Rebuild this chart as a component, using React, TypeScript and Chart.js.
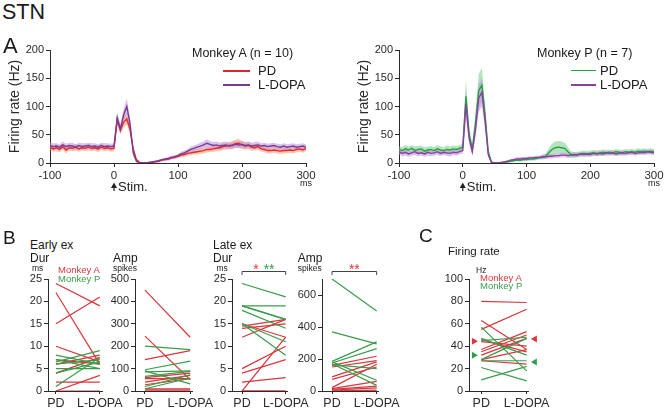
import React, { useEffect, useRef } from "react";
import { Chart, registerables } from "chart.js";

Chart.register(...registerables);

const FONT = "'Liberation Sans', Arial, Helvetica, sans-serif";
Chart.defaults.font.family = FONT;
Chart.defaults.color = "#222";

// ---------- Panel A : PSTH data (5 ms bins, -100 .. 300 ms) ----------
const BIN_START_MS = -100;
const BIN_MS = 5;

const A_PD_RATE = [
  28, 25, 27, 24, 29, 23, 27, 26, 28, 25, 27, 26, 28, 26, 27, 25, 28, 26, 27, 25,
  26, 76, 58, 72, 78, 60, 25, 6, 1, 0,
  0, 1, 1, 2, 3, 5, 6, 7, 9, 10,
  12, 14, 15, 17, 18, 19, 20, 21, 22, 24,
  24, 25, 26, 27, 29, 30, 31, 32, 34, 35,
  32, 30, 31, 28, 27, 29, 25, 24, 22, 22,
  23, 22, 21, 22, 22, 23, 22, 24, 25, 23, 26,
];
const A_PD_SEM = [
  5, 5, 6, 5, 5, 6, 5, 5, 6, 5, 5, 5, 6, 5, 5, 6, 5, 5, 5, 5,
  5, 9, 8, 9, 10, 8, 5, 2, 1, 1,
  1, 1, 1, 1, 2, 2, 2, 3, 3, 3,
  3, 4, 4, 4, 4, 4, 5, 5, 5, 5,
  5, 5, 5, 6, 6, 6, 6, 7, 7, 8,
  7, 6, 6, 6, 5, 6, 5, 5, 5, 5,
  5, 5, 5, 5, 5, 5, 5, 5, 5, 5, 5,
];
const A_LD_RATE = [
  31, 29, 30, 28, 32, 29, 31, 30, 28, 31, 29, 30, 31, 29, 30, 28, 31, 29, 30, 29,
  30, 80, 60, 85, 100, 70, 18, 3, 0, 0,
  0, 1, 2, 3, 4, 6, 7, 8, 10, 11,
  13, 16, 18, 21, 24, 26, 28, 30, 32, 35,
  33, 31, 32, 30, 31, 32, 30, 31, 33, 32,
  33, 31, 32, 30, 31, 32, 30, 31, 29, 30,
  31, 29, 28, 30, 28, 29, 30, 28, 29, 30, 28,
];
const A_LD_SEM = [
  5, 6, 5, 5, 6, 5, 5, 6, 5, 5, 6, 5, 5, 6, 5, 5, 5, 6, 5, 5,
  5, 10, 9, 11, 14, 10, 5, 2, 1, 1,
  1, 1, 1, 1, 2, 2, 2, 3, 3, 3,
  3, 4, 4, 4, 5, 5, 5, 6, 6, 7,
  6, 6, 6, 6, 6, 6, 6, 6, 6, 6,
  6, 6, 6, 6, 6, 6, 5, 5, 5, 5,
  5, 5, 5, 5, 5, 5, 5, 5, 5, 5, 5,
];
const P_PD_RATE = [
  24, 22, 25, 23, 26, 22, 24, 25, 21, 23, 24, 22, 25, 23, 22, 24, 23, 25, 24, 26,
  28, 118, 50, 25, 70, 128, 138, 85, 20, 2,
  0, 0, 0, 1, 2, 3, 4, 5, 5, 6,
  6, 7, 7, 8, 9, 10, 12, 18, 24, 27,
  28, 27, 26, 20, 15, 14, 15, 16, 17, 16,
  17, 18, 17, 18, 19, 18, 19, 18, 20, 19,
  18, 20, 19, 20, 19, 21, 20, 21, 20, 21, 20,
];
const P_PD_SEM = [
  6, 6, 7, 6, 6, 7, 6, 6, 7, 6, 6, 6, 7, 6, 6, 7, 6, 6, 6, 6,
  6, 30, 15, 8, 20, 30, 30, 20, 6, 1,
  1, 1, 1, 1, 2, 2, 2, 2, 3, 3,
  3, 3, 3, 3, 3, 4, 5, 8, 10, 11,
  11, 11, 10, 8, 6, 5, 5, 5, 5, 5,
  5, 5, 5, 5, 5, 5, 5, 5, 5, 5,
  5, 5, 5, 5, 5, 5, 5, 5, 5, 5, 5,
];
const P_LD_RATE = [
  20, 17, 19, 16, 18, 20, 17, 18, 16, 19, 17, 18, 20, 17, 19, 18, 17, 19, 18, 20,
  22, 105, 45, 20, 60, 115, 125, 75, 15, 1,
  0, 0, 1, 2, 3, 5, 6, 7, 7, 8,
  8, 9, 9, 10, 10, 11, 11, 12, 12, 13,
  13, 14, 14, 13, 14, 15, 14, 16, 15, 16,
  15, 17, 16, 17, 16, 18, 17, 18, 16, 17,
  18, 17, 18, 19, 17, 18, 19, 18, 20, 19, 18,
];
const P_LD_SEM = [
  5, 5, 6, 5, 5, 6, 5, 5, 5, 6, 5, 5, 6, 5, 5, 5, 6, 5, 5, 5,
  5, 25, 12, 6, 15, 25, 25, 15, 5, 1,
  1, 1, 1, 1, 2, 2, 2, 3, 3, 3,
  3, 3, 3, 3, 3, 4, 4, 4, 4, 4,
  4, 4, 4, 4, 4, 4, 4, 4, 4, 4,
  4, 4, 4, 4, 4, 4, 4, 4, 4, 4,
  4, 4, 4, 4, 4, 4, 4, 4, 4, 4, 4,
];
const TIME_MS = A_PD_RATE.map((_, i) => BIN_START_MS + i * BIN_MS);

// ---------- Panel B / C : paired values (PD -> L-DOPA) ----------
const CONDITIONS = ["PD", "L-DOPA"];

const EARLY_DUR_A_PD = [24, 22, 15, 10, 7, 6, 4, 2, 0, 0];
const EARLY_DUR_A_LD = [19, 6, 21, 6.5, 6, 8, 7.5, 2, 3.5, 0];
const EARLY_DUR_P_PD = [8, 7, 6.5, 6, 5, 4, 1];
const EARLY_DUR_P_LD = [6, 5, 9, 7, 5, 6.5, 7.5];

const EARLY_AMP_A_PD = [450, 245, 140, 60, 55, 40, 28, 10, 5, 0];
const EARLY_AMP_A_LD = [240, 50, 180, 80, 55, 70, 55, 10, 5, 0];
const EARLY_AMP_P_PD = [200, 95, 90, 85, 65, 20, 10];
const EARLY_AMP_P_LD = [185, 133, 32, 90, 88, 72, 58];

const LATE_DUR_A_PD = [15, 14.5, 14, 12, 5, 4, 2, 0, 0, 0];
const LATE_DUR_A_LD = [12, 16, 15, 16, 10, 7, 3, 12, 0, 0];
const LATE_DUR_P_PD = [24, 19, 19, 19, 18, 15, 15];
const LATE_DUR_P_LD = [21, 19, 16, 16, 14, 11, 8];

const LATE_AMP_A_PD = [160, 150, 88, 73, 21, 15, 10, 5, 0, 0];
const LATE_AMP_A_LD = [217, 190, 182, 150, 167, 60, 30, 20, 5, 0];
const LATE_AMP_P_PD = [700, 370, 185, 175, 182, 170, 165];
const LATE_AMP_P_LD = [500, 295, 307, 265, 67, 35, 140];

const FR_A_PD = [80, 63, 55, 46, 44, 37, 35, 32, 28, 27];
const FR_A_LD = [79, 37, 73, 35, 40, 53, 50, 47, 37, 24];
const FR_P_PD = [57, 47, 45, 28, 27, 21, 10];
const FR_P_LD = [18, 32, 48, 47, 27, 9, 22];
// population means (triangles), [PD, L-DOPA]
const FR_MEAN_A = [44.5, 46.5];
const FR_MEAN_P = [32, 26];

// significance marks
const SIG_LATE_DUR = [
  { text: "*", who: "A" },
  { text: "**", who: "P" },
];
const SIG_LATE_AMP = [{ text: "**", who: "A" }];

// ---------- styles ----------
const AXIS = "#2a2a2a";
const RED_A = "#e0262e";
const PURPLE_A = "#7b3b90";
const GREEN_P = "#22a348";
const PURPLE_P = "#8c3f9b";
const BAND_A_PD = "rgba(247,150,105,0.55)";
const BAND_A_LD = "rgba(185,145,220,0.55)";
const BAND_P_PD = "rgba(110,200,125,0.5)";
const BAND_P_LD = "rgba(190,145,220,0.55)";
const PAIR_RED = "#d7363c";
const PAIR_GREEN = "#3a9c4a";
const STAR_RED = "#e2343c";
const STAR_GREEN = "#2fa04a";

type Area = { L: number; T: number; R: number; B: number };
type Rect = { left: number; top: number; width: number; height: number };

function rectFor(a: Area, yw: number, padTop: number, padRight: number, xh: number): Rect {
  return {
    left: a.L - yw,
    top: a.T - padTop,
    width: a.R - a.L + yw + padRight,
    height: a.B - a.T + padTop + xh,
  };
}

function yAxis(max: number, step: number, width: number, title?: string) {
  return {
    min: 0,
    max,
    ticks: { stepSize: step, color: AXIS, font: { size: 11 }, padding: 2 },
    grid: { display: true, drawOnChartArea: false, tickLength: 4, color: AXIS, lineWidth: 1 },
    border: { display: true, color: AXIS, width: 1 },
    title: title
      ? { display: true, text: title, color: AXIS, font: { size: 14 }, padding: { top: 7, bottom: 0 } }
      : { display: false },
    afterFit: (s: any) => {
      s.width = width;
    },
  };
}

// ---------- PSTH ----------
const stimPlugin = {
  id: "stimMark",
  afterDraw(chart: any) {
    const ctx = chart.ctx;
    const xs = chart.scales.x;
    const x0 = xs.getPixelForValue(0);
    const xr = xs.getPixelForValue(300);
    const yb = chart.chartArea.bottom;
    ctx.save();
    ctx.fillStyle = "#222";
    ctx.strokeStyle = "#222";
    ctx.lineWidth = 1.2;
    ctx.beginPath();
    ctx.moveTo(x0, yb + 22);
    ctx.lineTo(x0, yb + 28);
    ctx.stroke();
    ctx.beginPath();
    ctx.moveTo(x0, yb + 19.5);
    ctx.lineTo(x0 - 3, yb + 25);
    ctx.lineTo(x0 + 3, yb + 25);
    ctx.closePath();
    ctx.fill();
    ctx.font = `13px ${FONT}`;
    ctx.textAlign = "left";
    ctx.textBaseline = "alphabetic";
    ctx.fillText("Stim.", x0 + 4, yb + 28);
    ctx.font = `9px ${FONT}`;
    ctx.textAlign = "center";
    ctx.fillText("ms", xr, yb + 23);
    ctx.restore();
  },
};

function psthConfig(
  pdRate: number[],
  pdSem: number[],
  ldRate: number[],
  ldSem: number[],
  pdColor: string,
  ldColor: string,
  pdBand: string,
  ldBand: string
) {
  const pts = (arr: number[]) => arr.map((v, i) => ({ x: TIME_MS[i], y: v }));
  const up = (r: number[], s: number[]) => r.map((v, i) => v + s[i]);
  const lo = (r: number[], s: number[]) => r.map((v, i) => Math.max(0, v - s[i]));
  const base = { pointRadius: 0, tension: 0 };
  return {
    type: "line",
    data: {
      datasets: [
        { ...base, label: "L-DOPA", data: pts(ldRate), borderColor: ldColor, borderWidth: 1.4, fill: false },
        { ...base, label: "PD", data: pts(pdRate), borderColor: pdColor, borderWidth: 1.4, fill: false },
        { ...base, label: "ld+", data: pts(up(ldRate, ldSem)), borderWidth: 0, fill: "+1", backgroundColor: ldBand },
        { ...base, label: "ld-", data: pts(lo(ldRate, ldSem)), borderWidth: 0, fill: false },
        { ...base, label: "pd+", data: pts(up(pdRate, pdSem)), borderWidth: 0, fill: "+1", backgroundColor: pdBand },
        { ...base, label: "pd-", data: pts(lo(pdRate, pdSem)), borderWidth: 0, fill: false },
      ],
    },
    options: {
      responsive: false,
      animation: false,
      events: [],
      layout: { padding: { top: 10, right: 20, left: 0, bottom: 0 } },
      plugins: { legend: { display: false }, tooltip: { enabled: false } },
      scales: {
        x: {
          type: "linear",
          min: -100,
          max: 300,
          ticks: { stepSize: 100, color: AXIS, font: { size: 11.5 }, padding: 2, maxRotation: 0 },
          grid: { display: true, drawOnChartArea: false, tickLength: 4, color: AXIS },
          border: { display: true, color: AXIS, width: 1 },
          afterFit: (s: any) => {
            s.height = 32;
          },
        },
        y: yAxis(200, 50, 50, "Firing rate (Hz)"),
      },
    },
    plugins: [stimPlugin],
  };
}

// ---------- paired plots ----------
function bracketPlugin(marks: { text: string; who: string }[]) {
  return {
    id: "sigBracket",
    afterDraw(chart: any) {
      const ctx = chart.ctx;
      const xs = chart.scales.x;
      const x0 = xs.getPixelForValue(0);
      const x1 = xs.getPixelForValue(1);
      const yb = chart.chartArea.top - 8;
      ctx.save();
      ctx.strokeStyle = "#444";
      ctx.lineWidth = 1;
      ctx.beginPath();
      ctx.moveTo(x0, yb + 4);
      ctx.lineTo(x0, yb + 0.5);
      ctx.lineTo(x1, yb + 0.5);
      ctx.lineTo(x1, yb + 4);
      ctx.stroke();
      ctx.font = `14px ${FONT}`;
      ctx.textBaseline = "alphabetic";
      ctx.textAlign = "left";
      const gap = 5;
      const widths = marks.map((m) => ctx.measureText(m.text).width);
      const total = widths.reduce((a, b) => a + b, 0) + gap * (marks.length - 1);
      let sx = (x0 + x1) / 2 - total / 2;
      marks.forEach((m, i) => {
        ctx.fillStyle = m.who === "A" ? STAR_RED : STAR_GREEN;
        ctx.fillText(m.text, sx, yb + 3);
        sx += widths[i] + gap;
      });
      ctx.restore();
    },
  };
}

const meanMarkerPlugin = {
  id: "meanMarkers",
  afterDatasetsDraw(chart: any) {
    const ctx = chart.ctx;
    const xs = chart.scales.x;
    const ys = chart.scales.y;
    const MARK_X = [-0.14, 1.16];
    const tri = (xv: number, yv: number, dir: number, color: string) => {
      const px = xs.getPixelForValue(xv);
      const py = ys.getPixelForValue(yv);
      ctx.beginPath();
      ctx.moveTo(px + dir * 3, py);
      ctx.lineTo(px - dir * 3, py - 3.5);
      ctx.lineTo(px - dir * 3, py + 3.5);
      ctx.closePath();
      ctx.fillStyle = color;
      ctx.fill();
    };
    ctx.save();
    tri(MARK_X[0], FR_MEAN_A[0], 1, STAR_RED);
    tri(MARK_X[0], FR_MEAN_P[0], 1, STAR_GREEN);
    tri(MARK_X[1], FR_MEAN_A[1], -1, STAR_RED);
    tri(MARK_X[1], FR_MEAN_P[1], -1, STAR_GREEN);
    ctx.restore();
  },
};

function pairConfig(
  aPD: number[],
  aLD: number[],
  pPD: number[],
  pLD: number[],
  max: number,
  step: number,
  xmin: number,
  xmax: number,
  padTop: number,
  extraPlugins: any[]
) {
  const seg = (a: number, b: number, color: string) => ({
    data: [
      { x: 0, y: a },
      { x: 1, y: b },
    ],
    showLine: true,
    borderColor: color,
    borderWidth: 1.2,
    pointRadius: 0,
    fill: false,
  });
  const datasets: any[] = [];
  pPD.forEach((v, i) => datasets.push(seg(v, pLD[i], PAIR_GREEN)));
  aPD.forEach((v, i) => datasets.push(seg(v, aLD[i], PAIR_RED)));
  return {
    type: "scatter",
    data: { datasets },
    options: {
      responsive: false,
      animation: false,
      events: [],
      layout: { padding: { top: padTop, right: 28, left: 0, bottom: 0 } },
      plugins: { legend: { display: false }, tooltip: { enabled: false } },
      scales: {
        x: {
          type: "linear",
          min: xmin,
          max: xmax,
          afterBuildTicks: (s: any) => {
            s.ticks = CONDITIONS.map((_, i) => ({ value: i }));
          },
          ticks: {
            callback: (v: number) => CONDITIONS[Math.round(v)],
            color: AXIS,
            font: { size: 12.5 },
            padding: 2,
            maxRotation: 0,
            autoSkip: false,
          },
          grid: { display: true, drawOnChartArea: false, tickLength: 3, color: AXIS },
          border: { display: true, color: AXIS, width: 1 },
          afterFit: (s: any) => {
            s.height = 20;
          },
        },
        y: yAxis(max, step, 30),
      },
    },
    plugins: extraPlugins,
  };
}

// ---------- geometry ----------
const AREA_A1: Area = { L: 50, T: 50, R: 306, B: 163 };
const AREA_A2: Area = { L: 399, T: 50, R: 654, B: 163 };
const AREA_B1: Area = { L: 48, T: 279, R: 102, B: 391 };
const AREA_B2: Area = { L: 135, T: 279, R: 192, B: 391 };
const AREA_B3: Area = { L: 232, T: 279, R: 287, B: 391 };
const AREA_B4: Area = { L: 322, T: 279, R: 378, B: 391 };
const AREA_C: Area = { L: 469, T: 279, R: 528, B: 391 };

function ChartCanvas({ rect, make }: { rect: Rect; make: () => any }) {
  const ref = useRef<HTMLCanvasElement | null>(null);
  useEffect(() => {
    const chart = new Chart(ref.current as HTMLCanvasElement, make());
    return () => chart.destroy();
  }, []);
  return (
    <canvas
      ref={ref}
      width={rect.width}
      height={rect.height}
      style={{ position: "absolute", left: rect.left, top: rect.top, width: rect.width, height: rect.height }}
    />
  );
}

function Txt({
  text,
  left,
  capTop,
  size,
  color = "#1a1a1a",
}: {
  text: string;
  left: number;
  capTop: number;
  size: number;
  color?: string;
}) {
  return (
    <div
      style={{
        position: "absolute",
        left,
        top: capTop - 0.13 * size,
        fontSize: size,
        lineHeight: 1,
        fontFamily: FONT,
        color,
        whiteSpace: "nowrap",
      }}
    >
      {text}
    </div>
  );
}

function Swatch({ left, y, width, color }: { left: number; y: number; width: number; color: string }) {
  return (
    <div style={{ position: "absolute", left, top: y - 0.75, width, height: 1.5, background: color }} />
  );
}

export default function App() {
  const b1 = rectFor(AREA_B1, 30, 10, 28, 20);
  const b2 = rectFor(AREA_B2, 30, 10, 28, 20);
  const b3 = rectFor(AREA_B3, 30, 20, 28, 20);
  const b4 = rectFor(AREA_B4, 30, 20, 28, 20);
  const c = rectFor(AREA_C, 30, 10, 28, 20);
  return (
    <div
      style={{
        position: "fixed",
        left: 0,
        top: 0,
        width: 664,
        height: 411,
        overflow: "hidden",
        background: "#fff",
      }}
    >
      <ChartCanvas
        rect={rectFor(AREA_A1, 50, 10, 20, 32)}
        make={() => psthConfig(A_PD_RATE, A_PD_SEM, A_LD_RATE, A_LD_SEM, RED_A, PURPLE_A, BAND_A_PD, BAND_A_LD)}
      />
      <ChartCanvas
        rect={rectFor(AREA_A2, 50, 10, 20, 32)}
        make={() => psthConfig(P_PD_RATE, P_PD_SEM, P_LD_RATE, P_LD_SEM, GREEN_P, PURPLE_P, BAND_P_PD, BAND_P_LD)}
      />
      <ChartCanvas
        rect={b1}
        make={() =>
          pairConfig(EARLY_DUR_A_PD, EARLY_DUR_A_LD, EARLY_DUR_P_PD, EARLY_DUR_P_LD, 25, 5, -0.18, 1.05, 10, [])
        }
      />
      <ChartCanvas
        rect={b2}
        make={() =>
          pairConfig(EARLY_AMP_A_PD, EARLY_AMP_A_LD, EARLY_AMP_P_PD, EARLY_AMP_P_LD, 500, 100, -0.22, 1.04, 10, [])
        }
      />
      <ChartCanvas
        rect={b3}
        make={() =>
          pairConfig(LATE_DUR_A_PD, LATE_DUR_A_LD, LATE_DUR_P_PD, LATE_DUR_P_LD, 25, 5, -0.23, 1.03, 20, [
            bracketPlugin(SIG_LATE_DUR),
          ])
        }
      />
      <ChartCanvas
        rect={b4}
        make={() =>
          pairConfig(LATE_AMP_A_PD, LATE_AMP_A_LD, LATE_AMP_P_PD, LATE_AMP_P_LD, 700, 100, -0.225, 1.03, 20, [
            bracketPlugin(SIG_LATE_AMP),
          ])
        }
      />
      <ChartCanvas
        rect={c}
        make={() => pairConfig(FR_A_PD, FR_A_LD, FR_P_PD, FR_P_LD, 100, 20, -0.27, 1.03, 10, [meanMarkerPlugin])}
      />

      <Txt text="STN" left={2} capTop={5} size={21.5} />
      <Txt text="A" left={3} capTop={38} size={22} />
      <Txt text="B" left={3} capTop={230} size={19} />
      <Txt text="C" left={419} capTop={228} size={19} />

      <Txt text="Monkey A (n = 10)" left={192} capTop={48.5} size={12.5} />
      <Swatch left={223} y={71} width={27} color={RED_A} />
      <Txt text="PD" left={258} capTop={66} size={13} />
      <Swatch left={223} y={85} width={27} color={PURPLE_A} />
      <Txt text="L-DOPA" left={258} capTop={80} size={13} />

      <Txt text="Monkey P (n = 7)" left={537} capTop={48.5} size={12.5} />
      <Swatch left={571} y={70.5} width={25} color={GREEN_P} />
      <Txt text="PD" left={600} capTop={66} size={13} />
      <Swatch left={571} y={85} width={25} color={PURPLE_P} />
      <Txt text="L-DOPA" left={600} capTop={80} size={13} />

      <Txt text="Early ex" left={30} capTop={240.5} size={12} />
      <Txt text="Dur" left={30} capTop={253.3} size={12} />
      <Txt text="ms" left={32} capTop={265.6} size={8.5} />
      <Txt text="Monkey A" left={58} capTop={266.7} size={9.5} color={PAIR_RED} />
      <Txt text="Monkey P" left={58} capTop={275} size={9.5} color={PAIR_GREEN} />
      <Txt text="Amp" left={113} capTop={253.3} size={12} />
      <Txt text="spikes" left={113} capTop={265.4} size={8.5} />

      <Txt text="Late ex" left={213} capTop={240.5} size={12} />
      <Txt text="Dur" left={213} capTop={253.3} size={12} />
      <Txt text="ms" left={216.5} capTop={265.6} size={8.5} />
      <Txt text="Amp" left={297.7} capTop={253.3} size={12} />
      <Txt text="spikes" left={297.7} capTop={265.4} size={8.5} />

      <Txt text="Firing rate" left={448} capTop={247} size={11.5} />
      <Txt text="Hz" left={476} capTop={267.3} size={8.5} />
      <Txt text="Monkey A" left={480} capTop={274.3} size={9.5} color={PAIR_RED} />
      <Txt text="Monkey P" left={480} capTop={282} size={9.5} color={PAIR_GREEN} />
    </div>
  );
}
